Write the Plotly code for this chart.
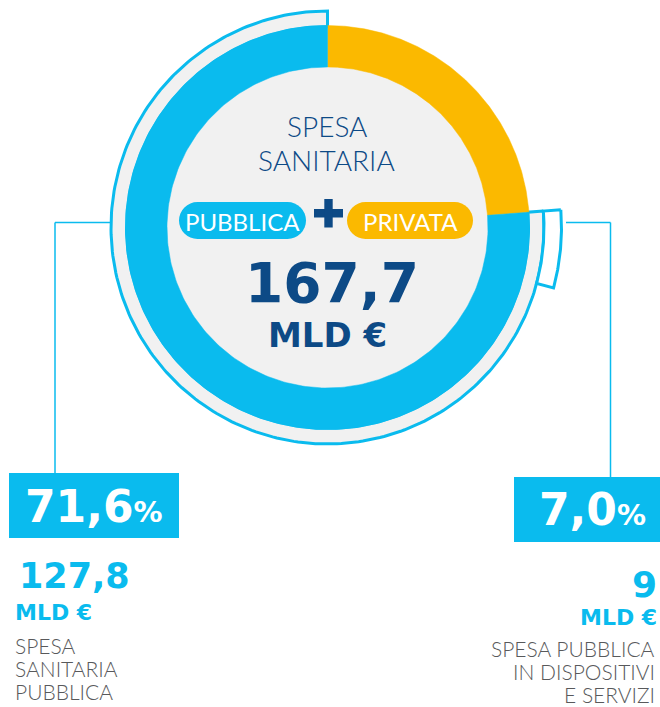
import numpy as np
import plotly.graph_objects as go

# ---------------- data ----------------
totale_mld = 167.7
categorie = ["PUBBLICA", "PRIVATA"]
valori_mld = [127.8, 39.9]
colori = ["#0abbee", "#fbb900"]
dispositivi_mld = 9
quota_pubblica_label = "71,6"
quota_dispositivi_label = "7,0"
titolo_centro = ["SPESA", "SANITARIA"]
desc_sx = ["SPESA", "SANITARIA", "PUBBLICA"]
desc_dx = ["SPESA PUBBLICA", "IN DISPOSITIVI", "E SERVIZI"]

# ---------------- geometry / style ----------------
W, H = 660, 707
CX, CY = 327.5, 227.5
R_IN, R_OUT = 160.5, 202.0
FRAME_OUT = 216.5
BOX_OUT = 234.0
CYAN = "#0abbee"
YELLOW = "#fbb900"
DARK = "#0d4a86"
GRAYTXT = "#58595b"
BGGRAY = "#f1f1f1"
LIGHT = "Lato"
HEAVY = "DejaVu Sans"


def sector(r0, r1, a0, a1, n=240):
    """annulus sector, angles in degrees clockwise from 12 o'clock"""
    t_out = np.radians(np.linspace(a0, a1, n))
    t_in = t_out[::-1]
    xs = np.concatenate([CX + r1 * np.sin(t_out), CX + r0 * np.sin(t_in)])
    ys = np.concatenate([CY - r1 * np.cos(t_out), CY - r0 * np.cos(t_in)])
    xs = np.append(xs, xs[0])
    ys = np.append(ys, ys[0])
    return xs, ys


def disc(r, n=360):
    t = np.radians(np.linspace(0, 360, n))
    return CX + r * np.sin(t), CY - r * np.cos(t)


tot = sum(valori_mld)
spans = [v / tot * 360 for v in valori_mld]
span_pub, span_priv = spans[0], spans[1]
pub_start = span_priv          # public share runs clockwise from end of private to 360
box_span = dispositivi_mld / valori_mld[0] * span_pub

fig = go.Figure()


def poly(xs, ys, fill, line_color=None, line_width=0):
    fig.add_trace(go.Scatter(x=xs, y=ys, mode="lines", fill="toself",
                             fillcolor=fill,
                             line=dict(color=line_color or fill, width=line_width),
                             hoverinfo="skip", showlegend=False))


# inner grey disc
xs, ys = disc(R_IN + 1)
poly(xs, ys, BGGRAY)
# grey frame around the public share
xs, ys = sector(R_OUT - 1, FRAME_OUT, pub_start, pub_start + span_pub)
poly(xs, ys, BGGRAY, CYAN, 3)
# box for the dispositivi share of public spending
xs, ys = sector(FRAME_OUT, BOX_OUT, pub_start, pub_start + box_span, n=60)
poly(xs, ys, "white", CYAN, 3)
# main ring: private (from top, clockwise) then public
xs, ys = sector(R_IN, R_OUT, 0, span_priv)
poly(xs, ys, colori[1], colori[1], 0.5)
xs, ys = sector(R_IN, R_OUT, pub_start, pub_start + span_pub)
poly(xs, ys, colori[0], colori[0], 0.5)

shapes = []
# percentage boxes
shapes.append(dict(type="rect", xref="x", yref="y", x0=9, x1=179, y0=473, y1=538,
                   fillcolor=CYAN, line=dict(width=0), layer="below"))
shapes.append(dict(type="rect", xref="x", yref="y", x0=514, x1=662, y0=477, y1=542,
                   fillcolor=CYAN, line=dict(width=0), layer="below"))
# leader lines
for (xa, ya, xb, yb) in [(55, 222.5, 110, 222.5), (55, 222.5, 55, 473),
                         (566, 222.5, 610.5, 222.5), (610.5, 222.5, 610.5, 477)]:
    shapes.append(dict(type="line", xref="x", yref="y", x0=xa, x1=xb, y0=ya, y1=yb,
                       line=dict(color=CYAN, width=1.5)))


def pill(x0, x1, y0, y1, color):
    r = (y1 - y0) / 2
    out = [dict(type="rect", xref="x", yref="y", x0=x0 + r, x1=x1 - r, y0=y0, y1=y1,
                fillcolor=color, line=dict(width=0))]
    for cx in (x0 + r, x1 - r):
        out.append(dict(type="circle", xref="x", yref="y", x0=cx - r, x1=cx + r,
                        y0=y0, y1=y1, fillcolor=color, line=dict(width=0)))
    return out


shapes += pill(179, 306, 202, 239, CYAN)
shapes += pill(347, 473, 202, 239, YELLOW)
# plus sign
shapes.append(dict(type="rect", xref="x", yref="y", x0=314, x1=343, y0=209, y1=217.5,
                   fillcolor=DARK, line=dict(width=0)))
shapes.append(dict(type="rect", xref="x", yref="y", x0=324.3, x1=332.7, y0=199, y1=227.5,
                   fillcolor=DARK, line=dict(width=0)))

ann = []


def add(text, x, y, size, color, xanchor="center", weight=400, family=LIGHT):
    ann.append(dict(text=text, x=x, y=y, xref="x", yref="y",
                    xanchor=xanchor, yanchor="middle", showarrow=False,
                    font=dict(family=family, size=size, color=color, weight=weight)))


add(titolo_centro[0], 327, 126, 28, DARK, weight=300)
add(titolo_centro[1], 326, 160, 28, DARK, weight=300)
add(categorie[0], 242.5, 221, 24, "white", weight=400)
add(categorie[1], 410, 221, 24, "white", weight=400)
add(f"{totale_mld:.1f}".replace(".", ","), 331.5, 283, 55, DARK, weight=700, family=HEAVY)
add("MLD €", 327, 334.5, 34, DARK, weight=700, family=HEAVY)

add(f"{quota_pubblica_label}<span style='font-size:29px'>%</span>", 94, 506, 44,
    "white", weight=700, family=HEAVY)
add(f"{quota_dispositivi_label}<span style='font-size:29px'>%</span>", 592, 509, 44,
    "white", weight=700, family=HEAVY)

add(f"{valori_mld[0]:.1f}".replace(".", ","), 17, 576, 35, CYAN, xanchor="left",
    weight=700, family=HEAVY)
add("MLD €", 13, 612, 22, CYAN, xanchor="left", weight=700, family=HEAVY)
for i, t in enumerate(desc_sx):
    add(t, 13, 645.5 + i * 23, 21, GRAYTXT, xanchor="left", weight=300)

add(f"{dispositivi_mld}", 659, 584, 36, CYAN, xanchor="right", weight=700, family=HEAVY)
add("MLD €", 659, 617, 22, CYAN, xanchor="right", weight=700, family=HEAVY)
for i, t in enumerate(desc_dx):
    add(t, 657, 648.5 + i * 23, 21, GRAYTXT, xanchor="right", weight=300)

fig.update_layout(
    width=W, height=H, margin=dict(l=0, r=0, t=0, b=0),
    paper_bgcolor="white", plot_bgcolor="white", showlegend=False,
    xaxis=dict(range=[0, W], visible=False, fixedrange=True, domain=[0, 1]),
    yaxis=dict(range=[H, 0], visible=False, fixedrange=True, domain=[0, 1]),
    shapes=shapes, annotations=ann,
)

fig.write_html("out.html", config={"displayModeBar": False},
               post_script="document.body.style.margin='0px';")
